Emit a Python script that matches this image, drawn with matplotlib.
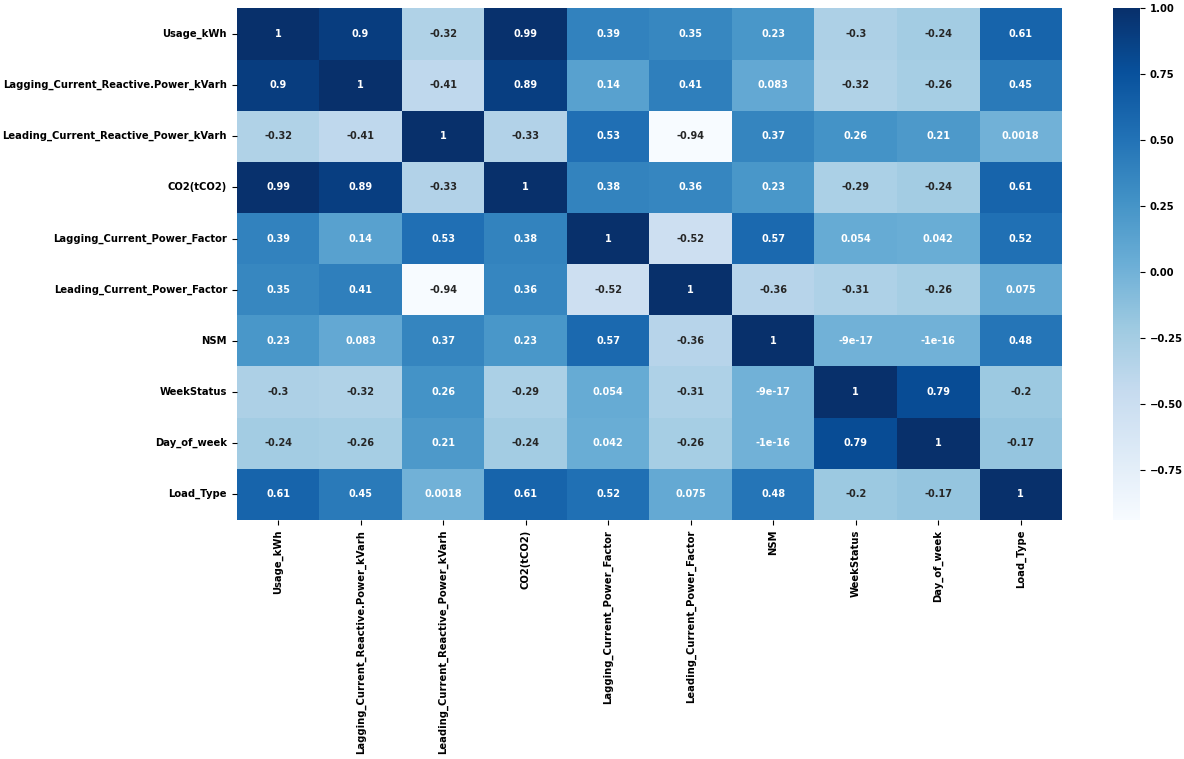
import numpy as np
import pandas as pd
import matplotlib
matplotlib.use("Agg")
import matplotlib.pyplot as plt
import seaborn as sns

columns = ['Usage_kWh', 'Lagging_Current_Reactive.Power_kVarh',
           'Leading_Current_Reactive_Power_kVarh', 'CO2(tCO2)',
           'Lagging_Current_Power_Factor', 'Leading_Current_Power_Factor',
           'NSM', 'WeekStatus', 'Day_of_week', 'Load_Type']

usage = [1, 0.9, -0.32, 0.99, 0.39, 0.35, 0.23, -0.3, -0.24, 0.61]
lagging_kvarh = [0.9, 1, -0.41, 0.89, 0.14, 0.41, 0.083, -0.32, -0.26, 0.45]
leading_kvarh = [-0.32, -0.41, 1, -0.33, 0.53, -0.94, 0.37, 0.26, 0.21, 0.0018]
co2 = [0.99, 0.89, -0.33, 1, 0.38, 0.36, 0.23, -0.29, -0.24, 0.61]
lagging_pf = [0.39, 0.14, 0.53, 0.38, 1, -0.52, 0.57, 0.054, 0.042, 0.52]
leading_pf = [0.35, 0.41, -0.94, 0.36, -0.52, 1, -0.36, -0.31, -0.26, 0.075]
nsm = [0.23, 0.083, 0.37, 0.23, 0.57, -0.36, 1, -9e-17, -1e-16, 0.48]
week_status = [-0.3, -0.32, 0.26, -0.29, 0.054, -0.31, -9e-17, 1, 0.79, -0.2]
day_of_week = [-0.24, -0.26, 0.21, -0.24, 0.042, -0.26, -1e-16, 0.79, 1, -0.17]
load_type = [0.61, 0.45, 0.0018, 0.61, 0.52, 0.075, 0.48, -0.2, -0.17, 1]

corr = pd.DataFrame([usage, lagging_kvarh, leading_kvarh, co2, lagging_pf,
                     leading_pf, nsm, week_status, day_of_week, load_type],
                    index=columns, columns=columns)

plt.rcParams['font.weight'] = 'bold'

fig = plt.figure(figsize=(11.84, 7.59), dpi=100)
ax = fig.add_axes([0.200, 0.315, 0.697, 0.674])
cax = fig.add_axes([0.940, 0.315, 0.023, 0.674])

sns.heatmap(corr, annot=True, cmap='Blues', ax=ax, cbar_ax=cax,
            annot_kws={'fontsize': 7, 'fontweight': 'bold'})

ax.tick_params(labelsize=7.2)
for lbl in ax.get_xticklabels() + ax.get_yticklabels():
    lbl.set_fontweight('bold')
cax.tick_params(labelsize=7.2)
for lbl in cax.get_yticklabels():
    lbl.set_fontweight('bold')

fig.savefig('out.png', dpi=100)
